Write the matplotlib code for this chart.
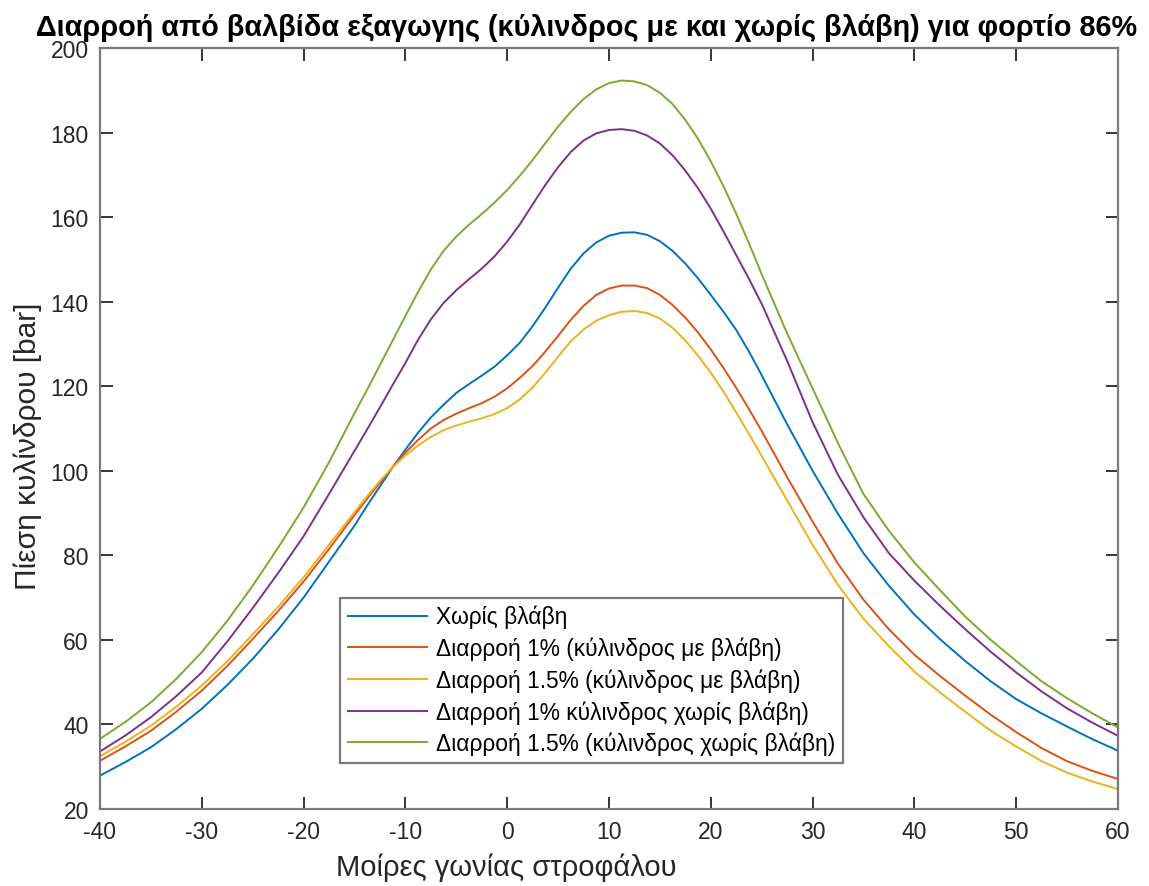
import matplotlib
matplotlib.use("Agg")
import matplotlib.pyplot as plt

plt.rcParams['font.family'] = ['Liberation Sans', 'DejaVu Sans']
plt.rcParams['axes.unicode_minus'] = False

# Μοίρες γωνίας στροφάλου (πυκνότερα σημεία γύρω από το μέγιστο)
gonia = [-40, -37.5, -35, -32.5, -30, -27.5, -25, -22.5, -20, -17.5,
         -15, -13.75, -12.5, -11.25, -10, -8.75, -7.5, -6.25, -5, -3.75,
         -2.5, -1.25, 0, 1.25, 2.5, 3.75, 5, 6.25, 7.5, 8.75,
         10, 11.25, 12.5, 13.75, 15, 16.25, 17.5, 18.75, 20, 21.25,
         22.5, 23.75, 25, 27.5, 30, 32.5, 35, 37.5, 40, 42.5,
         45, 47.5, 50, 52.5, 55, 57.5, 60]

xoris_vlavi = [27.9, 31.1, 34.6, 38.9, 43.7, 49.3, 55.5, 62.4, 70.0, 78.5,
               87.0, 91.8, 96.3, 100.8, 105.0, 109.0, 112.6, 115.6, 118.4, 120.5,
               122.5, 124.6, 127.3, 130.3, 134.2, 138.6, 143.3, 147.8, 151.4, 154.0,
               155.6, 156.3, 156.4, 155.8, 154.3, 152.0, 149.0, 145.5, 141.6, 137.6,
               133.3, 128.2, 122.6, 111.0, 100.0, 89.8, 80.5, 72.8, 66.0, 60.2,
               55.0, 50.2, 46.0, 42.6, 39.5, 36.5, 33.8]

diar_1_me = [31.4, 34.8, 38.5, 43.0, 48.0, 53.8, 60.2, 66.8, 73.8, 81.5,
             89.5, 93.4, 97.2, 100.9, 104.3, 107.3, 110.0, 112.0, 113.5, 114.8,
             116.0, 117.5, 119.5, 122.0, 124.8, 128.2, 131.9, 135.7, 139.0, 141.6,
             143.1, 143.8, 143.8, 143.2, 141.6, 139.2, 136.2, 132.7, 128.7, 124.3,
             119.6, 114.6, 109.4, 98.5, 88.0, 78.0, 69.5, 62.5, 56.5, 51.5,
             46.8, 42.3, 38.2, 34.4, 31.3, 29.0, 27.1]

diar_15_me = [32.5, 35.9, 39.7, 44.2, 49.2, 54.9, 61.3, 67.8, 74.8, 82.5,
              90.2, 94.0, 97.6, 100.8, 103.6, 106.0, 108.0, 109.6, 110.7, 111.6,
              112.4, 113.4, 114.8, 116.9, 119.7, 123.2, 127.0, 130.6, 133.4, 135.5,
              136.8, 137.6, 137.8, 137.3, 136.0, 133.8, 130.8, 127.2, 123.2, 118.7,
              113.8, 108.7, 103.5, 93.0, 82.5, 73.0, 65.0, 58.5, 52.5, 47.6,
              43.0, 38.5, 34.8, 31.3, 28.6, 26.5, 24.7]

diar_1_xoris = [33.6, 37.4, 41.7, 46.7, 52.3, 59.6, 67.5, 75.8, 84.5, 94.5,
                104.7, 109.8, 115.0, 120.3, 125.5, 131.0, 135.8, 139.7, 142.7, 145.3,
                147.8, 150.7, 154.2, 158.3, 163.0, 167.6, 171.8, 175.4, 178.1, 179.8,
                180.6, 180.8, 180.4, 179.3, 177.4, 174.6, 171.0, 166.8, 162.0, 156.6,
                151.0, 145.4, 139.5, 126.0, 111.5, 99.0, 89.0, 80.5, 74.0, 68.1,
                62.5, 57.2, 52.3, 47.8, 43.8, 40.4, 37.3]

diar_15_xoris = [36.6, 40.6, 45.2, 50.8, 57.1, 64.5, 72.8, 81.8, 91.3, 102.0,
                 113.6, 119.2, 125.0, 130.8, 136.6, 142.3, 147.6, 152.0, 155.4, 158.2,
                 160.7, 163.4, 166.4, 169.8, 173.5, 177.5, 181.4, 184.9, 187.9, 190.2,
                 191.7, 192.3, 192.1, 191.2, 189.4, 186.7, 183.0, 178.5, 173.2, 167.3,
                 160.8, 153.8, 146.5, 132.5, 119.5, 106.5, 94.5, 85.8, 78.3, 71.8,
                 65.5, 60.0, 55.0, 50.2, 46.2, 42.6, 39.3]

seires = [
    (xoris_vlavi, 'Χωρίς βλάβη', '#0072BD'),
    (diar_1_me, 'Διαρροή 1% (κύλινδρος με βλάβη)', '#D95319'),
    (diar_15_me, 'Διαρροή 1.5% (κύλινδρος με βλάβη)', '#EDB120'),
    (diar_1_xoris, 'Διαρροή 1% κύλινδρος χωρίς βλάβη)', '#7E2F8E'),
    (diar_15_xoris, 'Διαρροή 1.5% (κύλινδρος χωρίς βλάβη)', '#77AC30'),
]

fig = plt.figure(figsize=(11.49, 8.87), dpi=100)
ax = fig.add_axes([0.087, 0.0868, 0.886, 0.858])

for timi, etiketa, xroma in seires:
    ax.plot(gonia, timi, color=xroma, linewidth=1.4, label=etiketa)

ax.set_xlim(-40, 60)
ax.set_ylim(20, 200)
ax.set_xticks(range(-40, 61, 10))
ax.set_yticks(range(20, 201, 20))

axis_gray = '#7a7a7a'
for s in ax.spines.values():
    s.set_color(axis_gray)
    s.set_linewidth(1.6)
ax.tick_params(direction='in', length=9, width=1.3, color='#262626',
               top=True, right=True, labelsize=16.5, labelcolor='#262626', pad=8)

# Τίτλος και ετικέτες αξόνων
fig.text(587 / 1149, 1 - 28 / 887,
         'Διαρροή από βαλβίδα εξαγωγης (κύλινδρος με και χωρίς βλάβη) για φορτίο 86%',
         fontsize=20.8, fontweight='bold', ha='center', va='center')
ax.set_xlabel('Μοίρες γωνίας στροφάλου', fontsize=21, color='#262626')
ax.xaxis.set_label_coords(0.399, -0.0762)
ax.xaxis.label.set_va('center')
ax.set_ylabel('Πίεση κυλίνδρου [bar]', fontsize=21.5, color='#262626')
ax.yaxis.set_label_coords(-0.0707, 0.478)
ax.yaxis.label.set_va('center')

leg = ax.legend(loc='lower left', bbox_to_anchor=(0.236, 0.061), borderaxespad=0,
                fontsize=16.4, handlelength=3.5, handletextpad=0.4, labelspacing=0.36,
                borderpad=0.32, fancybox=False, framealpha=1, edgecolor=axis_gray)
leg.get_frame().set_linewidth(1.6)

fig.savefig('out.png', dpi=100, facecolor='white')
